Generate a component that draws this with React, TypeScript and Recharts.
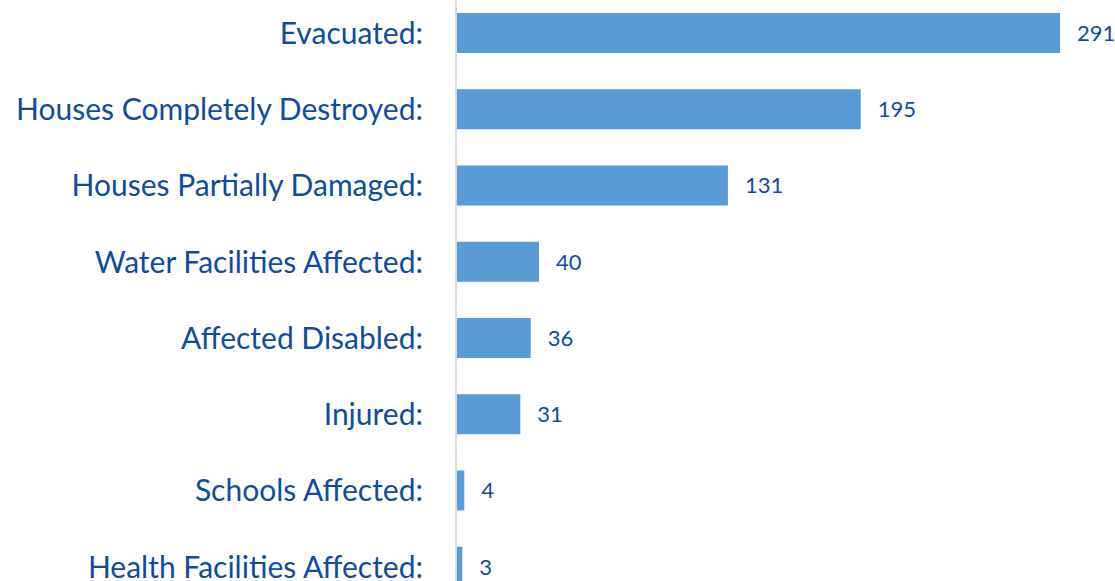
import { BarChart, Bar, XAxis, YAxis, LabelList } from 'recharts'

const categories = [
  'Evacuated:',
  'Houses Completely Destroyed:',
  'Houses Partially Damaged:',
  'Water Facilities Affected:',
  'Affected Disabled:',
  'Injured:',
  'Schools Affected:',
  'Health Facilities Affected:',
]
const counts = [291, 195, 131, 40, 36, 31, 4, 3]

const data = categories.map((name, i) => ({ name, value: counts[i] }))

const TEXT = '#0f4c9e'
const BAR = '#5b9bd5'
const FONT = 'Lato, "Open Sans", sans-serif'

export default function App() {
  return (
    <div
      style={{
        position: 'fixed',
        top: 0,
        left: 0,
        width: 1115,
        height: 581,
        overflow: 'hidden',
        background: '#fff',
      }}
    >
      <div style={{ position: 'absolute', top: -5, left: 0 }}>
        <BarChart
          width={1115}
          height={610}
          data={data}
          layout="vertical"
          margin={{ top: 0, right: 55, bottom: 0, left: 0 }}
        >
          <XAxis type="number" domain={[0, 291]} hide />
          <YAxis
            type="category"
            dataKey="name"
            width={456}
            tickLine={false}
            tickSize={0}
            tickMargin={33}
            axisLine={{ stroke: '#d9d9d9', strokeWidth: 2 }}
            tick={{ fill: TEXT, fontSize: 30, fontFamily: FONT }}
            interval={0}
          />
          <Bar dataKey="value" fill={BAR} barSize={40} isAnimationActive={false}>
            <LabelList
              dataKey="value"
              position="right"
              offset={17}
              fill={TEXT}
              fontSize={22}
              fontFamily={FONT}
            />
          </Bar>
        </BarChart>
      </div>
    </div>
  )
}
